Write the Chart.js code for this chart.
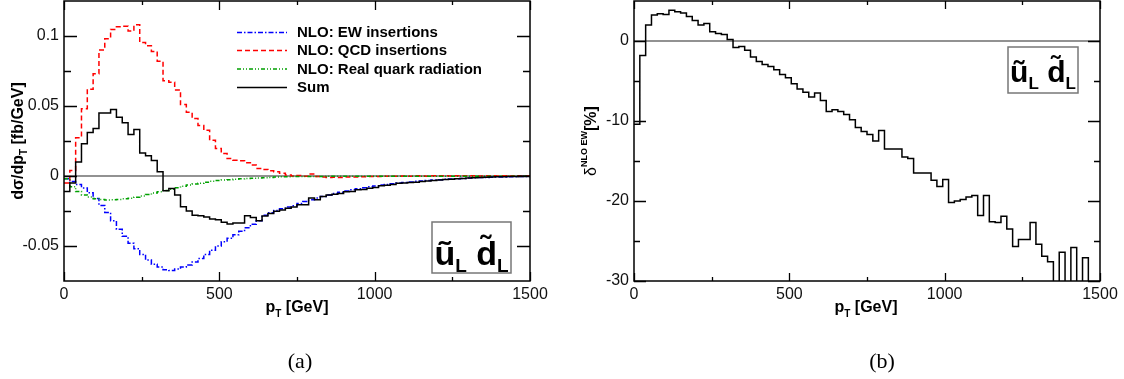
<!DOCTYPE html>
<html><head><meta charset="utf-8">
<script src="https://cdn.jsdelivr.net/npm/chart.js@4.4.1/dist/chart.umd.min.js"></script>
<style>
html,body{margin:0;padding:0;background:#fff;width:1124px;height:379px;overflow:hidden;}
canvas{position:absolute;top:0;}
#ca{left:0;} #cb{left:560px;}
</style></head><body>
<canvas id="ca" width="560" height="379"></canvas>
<canvas id="cb" width="564" height="379"></canvas>
<script>
// ---- data ----
const pTBinEdges = [0, 18.75, 37.5, 56.25, 75, 93.75, 112.5, 131.25, 150, 168.75, 187.5, 206.25, 225, 243.75, 262.5, 281.25, 300, 318.75, 337.5, 356.25, 375, 393.75, 412.5, 431.25, 450, 468.75, 487.5, 506.25, 525, 543.75, 562.5, 581.25, 600, 618.75, 637.5, 656.25, 675, 693.75, 712.5, 731.25, 750, 768.75, 787.5, 806.25, 825, 843.75, 862.5, 881.25, 900, 918.75, 937.5, 956.25, 975, 993.75, 1012.5, 1031.25, 1050, 1068.75, 1087.5, 1106.25, 1125, 1143.75, 1162.5, 1181.25, 1200, 1218.75, 1237.5, 1256.25, 1275, 1293.75, 1312.5, 1331.25, 1350, 1368.75, 1387.5, 1406.25, 1425, 1443.75, 1462.5, 1481.25, 1500];

const ewInsertions = [-0.002, -0.004, -0.006, -0.0085, -0.012, -0.016, -0.021, -0.026, -0.032, -0.038,
 -0.043, -0.048, -0.052, -0.056, -0.060, -0.063, -0.065, -0.067, -0.0675, -0.0665,
 -0.065, -0.0635, -0.0615, -0.059, -0.056, -0.053, -0.050, -0.047, -0.0445, -0.042,
 -0.0395, -0.037, -0.0345, -0.032, -0.028, -0.0262, -0.0246, -0.0234, -0.0222, -0.0212,
 -0.0196, -0.0183, -0.0170, -0.0158, -0.0146, -0.0135, -0.0125, -0.0116, -0.0107, -0.0099,
 -0.0091, -0.0084, -0.0077, -0.0071, -0.0065, -0.0060, -0.0055, -0.0050, -0.0046, -0.0042,
 -0.0038, -0.0035, -0.0032, -0.0029, -0.0026, -0.0023, -0.0021, -0.0019, -0.0017, -0.0015,
 -0.0013, -0.0011, -0.0010, -0.0009, -0.0008, -0.0007, -0.0006, -0.0005, -0.0004, -0.0003];

const qcdInsertions = [-0.005, 0.004, 0.0274, 0.048, 0.062, 0.073, 0.090, 0.098, 0.1047, 0.1066,
 0.107, 0.1035, 0.108, 0.0953, 0.093, 0.089, 0.082, 0.068, 0.067, 0.0615,
 0.051, 0.0456, 0.041, 0.036, 0.0326, 0.0255, 0.0196, 0.016, 0.0125, 0.0113,
 0.0109, 0.0095, 0.0078, 0.0054, 0.0047, 0.0038, 0.0031, 0.0019, 0.0007, 0.0,
 0.0003, -0.0002, 0.0014, -0.0004, -0.0008, -0.0010, -0.0009, -0.0010, -0.0008, -0.0007,
 -0.0007, -0.0005, -0.0004, -0.0003, -0.0004, -0.0002, -0.0002, -0.0001, 0.0, -0.0001,
 0.0001, 0.0, -0.0001, 0.0001, 0.0002, 0.0001, 0.0, 0.0001, 0.0002, 0.0001,
 0.0001, 0.0, 0.0001, 0.0001, 0.0, 0.0001, 0.0, 0.0001, 0.0, 0.0];

const realQuarkRadiation = [-0.002, -0.0076, -0.011, -0.0135, -0.015, -0.0162, -0.0168, -0.0171, -0.017, -0.0167,
 -0.0163, -0.0159, -0.0151, -0.0142, -0.0133, -0.0122, -0.0113, -0.0104, -0.0094, -0.0084,
 -0.0074, -0.0065, -0.0058, -0.0051, -0.0044, -0.0038, -0.0033, -0.0029, -0.0026, -0.0023,
 -0.0020, -0.0018, -0.0016, -0.0014, -0.0012, -0.0010, -0.0008, -0.0006, -0.0005, -0.0004,
 -0.0004, -0.0003, -0.0003, -0.0003, -0.0003, -0.0002, -0.0002, -0.0002, -0.0002, -0.0002,
 -0.0002, -0.0002, -0.0001, -0.0001, -0.0001, -0.0001, -0.0001, -0.0001, -0.0001, -0.0001,
 -0.0001, -0.0001, -0.0001, -0.0001, -0.0001, -0.0001, -0.0001, -0.0001, -0.0001, -0.0001,
 -0.0001, -0.0001, -0.0001, -0.0001, -0.0001, -0.0001, -0.0001, -0.0001, -0.0001, -0.0001];

const sumNLO = [-0.011, -0.005, 0.010, 0.023, 0.031, 0.034, 0.045, 0.045, 0.0475, 0.042,
 0.038, 0.0296, 0.0333, 0.0165, 0.0144, 0.011, 0.003, -0.0106, -0.009, -0.0135,
 -0.022, -0.025, -0.028, -0.0284, -0.0293, -0.0307, -0.0312, -0.033, -0.0343, -0.0336,
 -0.0336, -0.0284, -0.0296, -0.0319, -0.0285, -0.0268, -0.0252, -0.0243, -0.0231, -0.0222,
 -0.0206, -0.0206, -0.0158, -0.017, -0.0147, -0.0135, -0.013, -0.0125, -0.0113, -0.011,
 -0.0099, -0.0097, -0.0088, -0.0083, -0.007, -0.0066, -0.006, -0.0052, -0.005, -0.0046,
 -0.0045, -0.004, -0.0036, -0.0033, -0.0028, -0.0025, -0.0024, -0.002, -0.0017, -0.0015,
 -0.0012, -0.001, -0.0009, -0.0008, -0.0006, -0.0005, -0.0004, -0.0003, -0.0002, -0.0002];

const deltaNLOEW = [-10.4, -1.8, 2.0, 3.25, 3.4, 3.3, 3.85, 3.65, 3.5, 3.05,
 2.55, 2.0, 2.2, 1.15, 0.95, 0.8, 0.2, -0.8, -0.7, -1.15,
 -2.0, -2.55, -2.95, -3.2, -3.6, -4.2, -4.6, -5.35, -6.0, -6.4,
 -7.0, -6.5, -7.45, -8.8, -8.6, -8.8, -9.2, -9.85, -10.8, -11.3,
 -11.7, -12.5, -11.2, -13.5, -13.5, -13.5, -14.5, -14.7, -16.5, -16.5,
 -16.5, -17.4, -18.2, -17.3, -20.2, -20.0, -19.8, -19.5, -19.3, -21.8,
 -19.3, -22.6, -22.7, -21.9, -23.5, -25.7, -24.8, -24.8, -22.7, -25.4,
 -26.9, -27.6, -32, -26.4, -32, -25.8, -32, -27.1, -32, -32];

const xTickValues = [0, 500, 1000, 1500];
const xTickLabels = ['0', '500', '1000', '1500'];
const xMinorTicks = [250, 750, 1250];
const yTickValuesA = [-0.05, 0, 0.05, 0.1];
const yTickLabelsA = ['-0.05', '0', '0.05', '0.1'];
const yMinorTicksA = [-0.025, 0.025, 0.075];
const yTickValuesB = [-30, -20, -10, 0];
const yTickLabelsB = ['-30', '-20', '-10', '0'];
const yMinorTicksB = [-25, -15, -5];
const legendLabels = ['NLO: EW insertions', 'NLO: QCD insertions', 'NLO: Real quark radiation', 'Sum'];

// ---- helpers ----
const F = '"Liberation Sans", Arial, Helvetica, sans-serif';
const SERIF = '"Liberation Serif", "DejaVu Serif", serif';
Chart.defaults.font.family = F;
Chart.defaults.color = '#111';

function histPoints(vals) {
  return pTBinEdges.map((e, i) => ({ x: e, y: vals[Math.min(i, vals.length - 1)] }));
}
function drawRuns(ctx, runs, x, y, align) {
  let total = 0;
  runs.forEach(r => { ctx.font = r.font; r.w = ctx.measureText(r.t).width; total += r.w; });
  let cx = align === 'center' ? x - total / 2 : x;
  ctx.textAlign = 'left'; ctx.textBaseline = 'alphabetic';
  runs.forEach(r => { ctx.font = r.font; ctx.fillText(r.t, cx, y + (r.dy || 0)); cx += r.w; });
}
function squarkLabel(ctx, bx, by, bw, bh, big, small, baseY) {
  ctx.save();
  ctx.strokeStyle = '#777'; ctx.lineWidth = 1.5;
  ctx.strokeRect(bx, by, bw, bh);
  ctx.fillStyle = '#000';
  drawRuns(ctx, [
    { t: '\u0169', font: `bold ${big}px ${F}` },
    { t: 'L', font: `bold ${small}px ${F}`, dy: 7 },
    { t: ' ', font: `bold ${big}px ${F}` },
    { t: 'd\u0303', font: `bold ${big}px ${F}` },
    { t: 'L', font: `bold ${small}px ${F}`, dy: 7 }
  ], bx + bw / 2, baseY, 'center');
  ctx.restore();
}
function makeScales(ymin, ymax, yVals, yLabels, yWidth) {
  return {
    x: {
      type: 'linear', min: 0, max: 1500,
      grid: { display: false, drawTicks: false }, border: { display: false },
      afterBuildTicks: s => { s.ticks = xTickValues.map(v => ({ value: v })); },
      ticks: { padding: 4, maxRotation: 0, autoSkip: false, font: { size: 16 }, color: '#111',
        callback: v => { const i = xTickValues.indexOf(v); return i >= 0 ? xTickLabels[i] : ''; } },
      afterFit: s => { s.height = 98; s.paddingLeft = 0; s.paddingRight = 0; }
    },
    y: {
      type: 'linear', min: ymin, max: ymax,
      grid: { display: false, drawTicks: false }, border: { display: false },
      afterBuildTicks: s => { s.ticks = yVals.map(v => ({ value: v })); },
      ticks: { padding: 5, autoSkip: false, font: { size: 16 }, color: '#111',
        callback: v => { const i = yVals.indexOf(v); return i >= 0 ? yLabels[i] : ''; } },
      afterFit: s => { s.width = yWidth; s.paddingTop = 0; s.paddingBottom = 0; }
    }
  };
}
function frameAndTicks(chart, yMajor, yMinor, yMajLen, yMinLen, xMajLen, xMinLen) {
  const ctx = chart.ctx, a = chart.chartArea, xs = chart.scales.x, ys = chart.scales.y;
  ctx.save();
  ctx.strokeStyle = '#000'; ctx.lineWidth = 1.5;
  ctx.strokeRect(a.left, a.top, a.right - a.left, a.bottom - a.top);
  ctx.beginPath();
  const xt = (vals, len) => vals.forEach(v => {
    const p = Math.round(xs.getPixelForValue(v)) + 0.5;
    ctx.moveTo(p, a.bottom); ctx.lineTo(p, a.bottom - len);
    ctx.moveTo(p, a.top); ctx.lineTo(p, a.top + len);
  });
  const yt = (vals, len) => vals.forEach(v => {
    const p = Math.round(ys.getPixelForValue(v)) + 0.5;
    ctx.moveTo(a.left, p); ctx.lineTo(a.left + len, p);
    ctx.moveTo(a.right, p); ctx.lineTo(a.right - len, p);
  });
  xt(xTickValues, xMajLen); xt(xMinorTicks, xMinLen);
  yt(yMajor, yMajLen); yt(yMinor, yMinLen);
  ctx.lineWidth = 1.3;
  ctx.stroke();
  ctx.restore();
}
function zeroLine(chart) {
  const ctx = chart.ctx, a = chart.chartArea;
  const p = chart.scales.y.getPixelForValue(0);
  ctx.save(); ctx.strokeStyle = '#6e6e6e'; ctx.lineWidth = 1.3;
  ctx.beginPath(); ctx.moveTo(a.left, p); ctx.lineTo(a.right, p); ctx.stroke(); ctx.restore();
}

const lineStyles = [
  { color: '#0000ff', dash: [5, 2, 1.5, 2] },
  { color: '#ff0000', dash: [5, 3] },
  { color: '#00a000', dash: [4, 2, 1, 2, 1, 2] },
  { color: '#000000', dash: [] }
];
const seriesA = [ewInsertions, qcdInsertions, realQuarkRadiation, sumNLO];

// ---- panel (a) ----
new Chart(document.getElementById('ca'), {
  type: 'line',
  data: {
    datasets: seriesA.map((vals, k) => ({
      label: legendLabels[k], data: histPoints(vals), stepped: 'before',
      borderColor: lineStyles[k].color, borderDash: lineStyles[k].dash,
      borderWidth: 1.5, pointRadius: 0, fill: false, order: 3 - k
    }))
  },
  options: {
    responsive: false, animation: false, devicePixelRatio: 1,
    layout: { padding: { left: 0, right: 30, top: 1, bottom: 0 } },
    plugins: { legend: { display: false }, tooltip: { enabled: false } },
    scales: makeScales(-0.075, 0.125, yTickValuesA, yTickLabelsA, 64)
  },
  plugins: [{
    id: 'decorA',
    beforeDatasetsDraw(chart) { zeroLine(chart); },
    afterDatasetsDraw(chart) { frameAndTicks(chart, yTickValuesA, yMinorTicksA, 13, 7, 9, 4); },
    afterDraw(chart) {
      const ctx = chart.ctx;
      ctx.save();
      const rows = [32, 50, 68.5, 87];
      rows.forEach((ry, k) => {
        ctx.strokeStyle = lineStyles[k].color; ctx.lineWidth = 1.5;
        ctx.setLineDash(lineStyles[k].dash);
        ctx.beginPath(); ctx.moveTo(237, ry + 0.5); ctx.lineTo(287, ry + 0.5); ctx.stroke();
        ctx.setLineDash([]);
        ctx.fillStyle = '#000'; ctx.font = `bold 15px ${F}`;
        ctx.textAlign = 'left'; ctx.textBaseline = 'middle';
        ctx.fillText(legendLabels[k], 297, ry + 1);
      });
      ctx.fillStyle = '#000';
      drawRuns(ctx, [
        { t: 'p', font: `bold 16px ${F}` },
        { t: 'T', font: `bold 10px ${F}`, dy: 5 },
        { t: ' [GeV]', font: `bold 16px ${F}` }
      ], 297, 312, 'center');
      ctx.save(); ctx.translate(23, 141); ctx.rotate(-Math.PI / 2);
      drawRuns(ctx, [
        { t: 'd\u03c3/dp', font: `bold 16px ${F}` },
        { t: 'T', font: `bold 10px ${F}`, dy: 4 },
        { t: ' [fb/GeV]', font: `bold 16px ${F}` }
      ], 0, 0, 'center');
      ctx.restore();
      squarkLabel(ctx, 432, 222, 79, 51, 34, 19, 265);
      ctx.font = `22px ${SERIF}`; ctx.textAlign = 'center'; ctx.textBaseline = 'alphabetic';
      ctx.fillText('(a)', 300, 368);
      ctx.restore();
    }
  }]
});

// ---- panel (b) ----
new Chart(document.getElementById('cb'), {
  type: 'line',
  data: {
    datasets: [{
      label: '\u03b4 NLO EW', data: histPoints(deltaNLOEW), stepped: 'before',
      borderColor: '#000', borderWidth: 1.5, pointRadius: 0, fill: false
    }]
  },
  options: {
    responsive: false, animation: false, devicePixelRatio: 1,
    layout: { padding: { left: 0, right: 24, top: 1, bottom: 0 } },
    plugins: { legend: { display: false }, tooltip: { enabled: false } },
    scales: makeScales(-30, 5, yTickValuesB, yTickLabelsB, 74)
  },
  plugins: [{
    id: 'decorB',
    beforeDatasetsDraw(chart) { zeroLine(chart); },
    afterDatasetsDraw(chart) { frameAndTicks(chart, yTickValuesB, yMinorTicksB, 12, 6, 8, 4); },
    afterDraw(chart) {
      const ctx = chart.ctx;
      ctx.save();
      ctx.fillStyle = '#000';
      drawRuns(ctx, [
        { t: 'p', font: `bold 16px ${F}` },
        { t: 'T', font: `bold 10px ${F}`, dy: 5 },
        { t: ' [GeV]', font: `bold 16px ${F}` }
      ], 306, 312, 'center');
      ctx.save(); ctx.translate(36, 141); ctx.rotate(-Math.PI / 2);
      drawRuns(ctx, [
        { t: '\u03b4', font: `16px ${F}` },
        { t: 'NLO EW', font: `bold 9px ${F}`, dy: -9 },
        { t: '[%]', font: `bold 16px ${F}` }
      ], 0, 0, 'center');
      ctx.restore();
      squarkLabel(ctx, 448, 47, 70, 46, 30, 17, 82);
      ctx.font = `22px ${SERIF}`; ctx.textAlign = 'center'; ctx.textBaseline = 'alphabetic';
      ctx.fillText('(b)', 322, 368);
      ctx.restore();
    }
  }]
});
</script>
</body></html>
